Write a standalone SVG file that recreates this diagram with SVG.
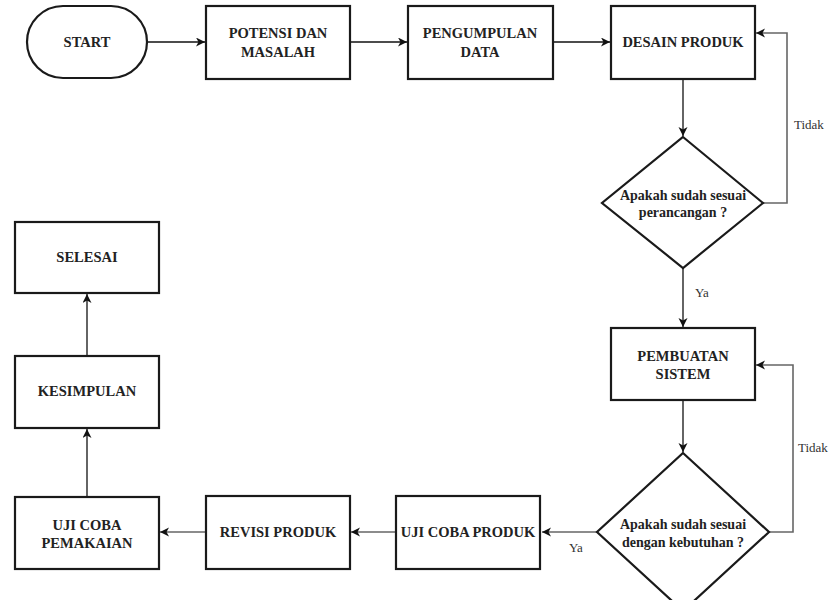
<svg xmlns="http://www.w3.org/2000/svg" width="829" height="600" viewBox="0 0 829 600">
<style>
.box{fill:#fff;stroke:#1a1a1a;stroke-width:2.2}
.t{font-family:"Liberation Serif",serif;font-weight:bold;font-size:14.5px;fill:#222;text-anchor:middle}
.td{font-family:"Liberation Serif",serif;font-weight:bold;font-size:14px;fill:#222;text-anchor:middle}
.lbl{font-family:"Liberation Serif",serif;font-size:13px;fill:#333}
.c{fill:none;stroke:#111;stroke-width:1.3}
.cg{fill:none;stroke:#666;stroke-width:1.6}
</style>
<defs>
<marker id="a" markerUnits="userSpaceOnUse" markerWidth="10" markerHeight="10" refX="9" refY="4.5" orient="auto">
<path d="M0,0 L9,4.5 L0,9 L2.5,4.5 z" fill="#111"/>
</marker>
</defs>
<rect width="829" height="600" fill="#fff"/>
<g id="connectors">
<path class="c" d="M147,42 H205" marker-end="url(#a)"/>
<path class="c" d="M350,42 H407" marker-end="url(#a)"/>
<path class="c" d="M553,42 H610" marker-end="url(#a)"/>
<path class="c" d="M683,79 V136" marker-end="url(#a)"/>
<path class="cg" d="M763,203 H787 V33 H756" marker-end="url(#a)"/>
<path class="c" d="M683,268 V327" marker-end="url(#a)"/>
<path class="c" d="M683,400 V452" marker-end="url(#a)"/>
<path class="cg" d="M769,532 H793 V365 H756" marker-end="url(#a)"/>
<path class="cg" d="M597,532 H542" marker-end="url(#a)"/>
<path class="cg" d="M396,532 H351" marker-end="url(#a)"/>
<path class="cg" d="M206,532 H160" marker-end="url(#a)"/>
<path class="c" d="M87,497 V429" marker-end="url(#a)"/>
<path class="c" d="M87,356 V294" marker-end="url(#a)"/>
<text class="lbl" x="794" y="129">Tidak</text>
<text class="lbl" x="798" y="452">Tidak</text>
<text class="lbl" x="695" y="297">Ya</text>
<text class="lbl" x="569" y="552">Ya</text>
</g>
<g id="start"><rect class="box" x="27" y="6" width="120" height="72" rx="36"/><text class="t" x="87" y="47">START</text></g>
<g id="potensi"><rect class="box" x="206" y="6" width="144" height="73"/><text class="t" x="278" y="38">POTENSI DAN</text><text class="t" x="278" y="57">MASALAH</text></g>
<g id="pengumpulan"><rect class="box" x="408" y="6" width="145" height="73"/><text class="t" x="480" y="38">PENGUMPULAN</text><text class="t" x="480" y="57">DATA</text></g>
<g id="desain"><rect class="box" x="611" y="6" width="144" height="73"/><text class="t" x="683" y="47">DESAIN PRODUK</text></g>
<g id="cek1"><polygon class="box" points="683,137 763,203 683,268 602,203"/><text class="td" x="683" y="200">Apakah sudah sesuai</text><text class="td" x="683" y="217">perancangan ?</text></g>
<g id="pembuatan"><rect class="box" x="611" y="328" width="144" height="72"/><text class="t" x="683" y="361">PEMBUATAN</text><text class="t" x="683" y="379">SISTEM</text></g>
<g id="cek2"><polygon class="box" points="683,453 769,532 683,611 597,532"/><text class="td" x="683" y="529">Apakah sudah sesuai</text><text class="td" x="683" y="547">dengan kebutuhan ?</text></g>
<g id="ujicobaproduk"><rect class="box" x="396" y="496" width="144" height="73"/><text class="t" x="468" y="537">UJI COBA PRODUK</text></g>
<g id="revisi"><rect class="box" x="206" y="496" width="144" height="73"/><text class="t" x="278" y="537">REVISI PRODUK</text></g>
<g id="ujicobapemakaian"><rect class="box" x="15" y="497" width="144" height="72"/><text class="t" x="87" y="530">UJI COBA</text><text class="t" x="87" y="548">PEMAKAIAN</text></g>
<g id="kesimpulan"><rect class="box" x="15" y="356" width="144" height="72"/><text class="t" x="87" y="396">KESIMPULAN</text></g>
<g id="selesai"><rect class="box" x="15" y="222" width="144" height="71"/><text class="t" x="87" y="262">SELESAI</text></g>
</svg>
